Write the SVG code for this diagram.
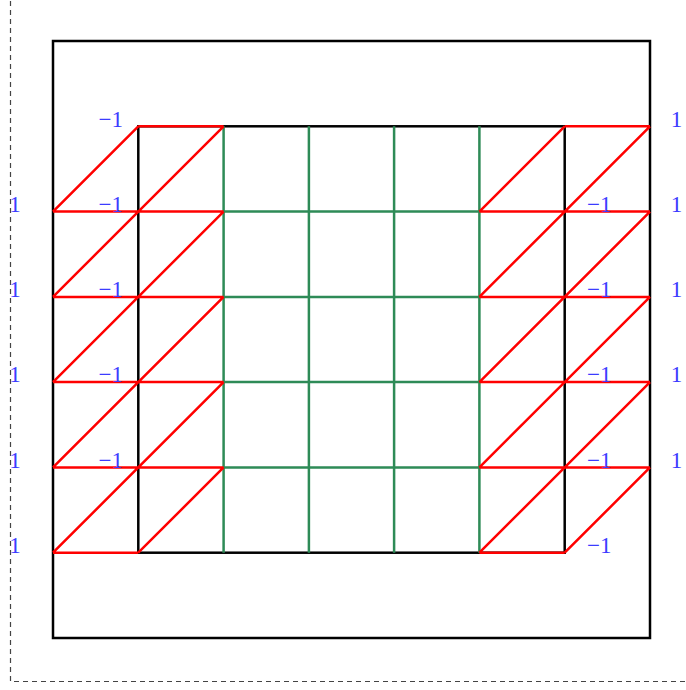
<svg xmlns="http://www.w3.org/2000/svg" width="686" height="690" viewBox="0 0 686 690">
<style>
.frame{fill:none;stroke:#444;stroke-width:1.2;stroke-dasharray:5 4}
.blk{fill:none;stroke:#000;stroke-width:2.5}
.grn{fill:none;stroke:#2e8b57;stroke-width:2.5}
.red{fill:none;stroke:#ff0000;stroke-width:2.5;stroke-linejoin:round}
.lbl{font-family:"Liberation Serif","Times New Roman",serif;font-size:23px;fill:#3c3cff}
.e{text-anchor:end}
.m{text-anchor:middle}
</style>
<rect class="frame" x="10.5" y="-20" width="720" height="701.5"/>
<g id="outer"><rect class="blk" x="53" y="41" width="597" height="597"/></g>
<g id="inner"><rect class="blk" x="138.3" y="126.3" width="426.4" height="426.4"/></g>
<g id="green-grid">
<path class="grn" d="M223.6 126.3V552.7M308.9 126.3V552.7M394.1 126.3V552.7M479.4 126.3V552.7M223.6 211.6H479.4M223.6 296.9H479.4M223.6 382.1H479.4M223.6 467.4H479.4"/>
</g>
<g id="left-strip">
<path class="red" d="M138.3 126.3H223.6M53 211.6H223.6M53 296.9H223.6M53 382.1H223.6M53 467.4H223.6M53 552.7H138.3M53 211.6L138.3 126.3M53 296.9L223.6 126.3M53 382.1L223.6 211.6M53 467.4L223.6 296.9M53 552.7L223.6 382.1M138.3 552.7L223.6 467.4"/>
</g>
<g id="right-strip">
<path class="red" d="M564.7 126.3H650M479.4 211.6H650M479.4 296.9H650M479.4 382.1H650M479.4 467.4H650M479.4 552.7H564.7M479.4 211.6L564.7 126.3M479.4 296.9L650 126.3M479.4 382.1L650 211.6M479.4 467.4L650 296.9M479.4 552.7L650 382.1M564.7 552.7L650 467.4"/>
</g>
<g id="labels-left">
<text class="lbl m" x="15" y="212">1</text>
<text class="lbl m" x="15" y="297">1</text>
<text class="lbl m" x="15" y="382">1</text>
<text class="lbl m" x="15" y="468">1</text>
<text class="lbl m" x="15" y="553">1</text>
<text class="lbl e" x="123" y="127">−1</text>
<text class="lbl e" x="123" y="212">−1</text>
<text class="lbl e" x="123" y="297">−1</text>
<text class="lbl e" x="123" y="382">−1</text>
<text class="lbl e" x="123" y="468">−1</text>
</g>
<g id="labels-right">
<text class="lbl m" x="676.5" y="127">1</text>
<text class="lbl m" x="676.5" y="212">1</text>
<text class="lbl m" x="676.5" y="297">1</text>
<text class="lbl m" x="676.5" y="382">1</text>
<text class="lbl m" x="676.5" y="468">1</text>
<text class="lbl" x="587" y="212">−1</text>
<text class="lbl" x="587" y="297">−1</text>
<text class="lbl" x="587" y="382">−1</text>
<text class="lbl" x="587" y="468">−1</text>
<text class="lbl" x="587" y="553">−1</text>
</g>
</svg>
